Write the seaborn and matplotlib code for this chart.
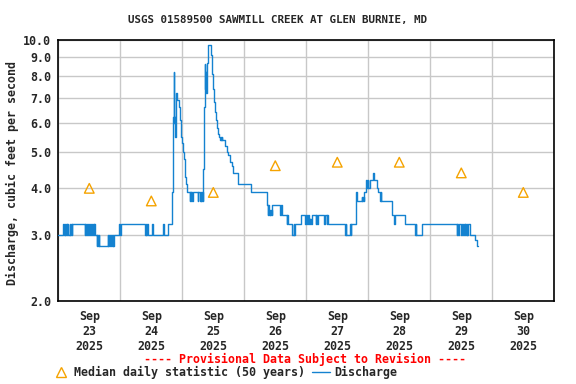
import pandas as pd
import matplotlib
matplotlib.use("Agg")
import matplotlib.pyplot as plt
import matplotlib.dates as mdates
from matplotlib.lines import Line2D
from matplotlib.ticker import NullFormatter, NullLocator
import seaborn as sns

# 15-minute discharge, kept as the points where the stepped value changes
# (hours after Sep 23 00:00, cubic feet per second)
step_hours = [
    0.0, 1.95, 2.2, 2.45, 2.7, 2.95, 3.3, 3.55, 3.8, 4.4, 4.65, 4.9, 5.15, 5.4,
    10.2, 10.45, 10.9, 11.15, 11.6, 11.85, 12.3, 12.55, 13.0, 13.25, 13.7, 13.95,
    14.3, 14.9, 15.15, 15.4, 15.65, 15.9,
    19.1, 19.35, 19.8, 20.05, 20.5, 20.75, 21.0, 21.25, 21.5,
    23.6, 23.85, 24.1,
    33.6, 33.85, 34.1, 34.35, 34.6, 36.2, 36.5, 40.6, 40.9, 42.6,
    44.1, 44.4, 44.75, 44.9, 45.05, 45.2, 45.35, 45.6, 45.8, 46.7, 47.1, 47.5,
    47.9, 48.3, 48.6, 48.9, 49.2, 49.5, 49.9,
    50.8, 51.05, 51.3, 51.55, 51.8, 52.05, 54.0, 54.25, 54.9, 55.15, 55.4, 55.65, 55.9,
    56.1, 56.4, 56.75, 56.95, 57.1, 57.25, 57.4, 57.55, 57.85, 59.0, 59.35, 59.55,
    59.9, 60.3, 60.8, 61.2, 61.6, 62.0, 62.4, 62.6, 62.8, 63.0, 63.2, 63.4, 64.5,
    65.2, 65.8, 66.5, 67.1, 67.8, 69.5, 69.7, 74.6,
    80.7, 81.05, 81.3, 81.6, 81.85, 82.1, 82.35, 82.6, 82.9, 85.8, 86.05, 86.5,
    88.4, 88.65, 89.05, 90.6, 91.2, 91.4, 91.65, 93.95, 95.5, 95.75, 96.4, 96.65,
    96.9, 97.1, 97.35, 97.6, 97.85, 98.3, 99.6, 99.85, 100.3, 100.55, 103.0,
    103.25, 103.9, 104.15, 104.5, 111.0, 111.25, 111.5, 112.9, 113.15, 113.4,
    115.4, 115.65, 117.4, 117.65, 117.9, 118.15, 118.5, 119.0, 119.2, 119.45,
    119.7, 119.95, 120.7, 121.9, 122.15, 123.3, 123.6, 124.5, 124.75, 125.0,
    129.3, 130.0, 130.25, 134.2, 138.1, 138.35, 138.6, 140.9,
    154.2, 154.45, 154.7, 154.95, 155.9, 156.15, 156.8, 157.05, 157.3, 157.55,
    157.8, 158.05, 158.3, 158.55, 159.4, 161.3, 161.9, 162.3,
]
step_cfs = [
    3.0, 3.2, 3.0, 3.2, 3.0, 3.2, 3.0, 3.2, 3.0, 3.2, 3.0, 3.2, 3.0, 3.2,
    3.0, 3.2, 3.0, 3.2, 3.0, 3.2, 3.0, 3.2, 3.0, 3.2, 3.0, 3.2,
    3.0, 2.8, 3.0, 2.8, 3.0, 2.8,
    3.0, 2.8, 3.0, 2.8, 3.0, 2.8, 3.0, 2.8, 3.0,
    3.2, 3.0, 3.2,
    3.0, 3.2, 3.0, 3.2, 3.0, 3.2, 3.0, 3.2, 3.0, 3.2,
    3.9, 6.2, 8.2, 6.0, 5.6, 6.2, 5.5, 7.2, 6.9, 6.6, 6.1, 5.5,
    5.3, 5.0, 4.8, 4.5, 4.3, 4.1, 3.9,
    3.7, 3.9, 3.7, 3.9, 3.7, 3.9, 3.7, 3.9, 3.7, 3.9, 3.7, 3.9, 3.7,
    4.5, 6.6, 8.6, 7.4, 8.2, 7.2, 8.0, 8.7, 9.7, 9.1, 8.8, 8.1,
    7.4, 6.8, 6.4, 6.1, 5.8, 5.6, 5.5, 5.4, 5.5, 5.4, 5.5, 5.4, 5.2,
    5.0, 4.9, 4.7, 4.6, 4.4, 4.3, 4.1, 3.9,
    3.6, 3.4, 3.6, 3.4, 3.5, 3.4, 3.5, 3.4, 3.6, 3.4, 3.6, 3.4,
    3.2, 3.4, 3.2, 3.0, 3.2, 3.0, 3.2, 3.4, 3.2, 3.4, 3.2, 3.4,
    3.2, 3.3, 3.2, 3.3, 3.2, 3.4, 3.2, 3.4, 3.2, 3.4, 3.2,
    3.4, 3.2, 3.4, 3.2, 3.0, 3.2, 3.0, 3.2, 3.0, 3.2,
    3.9, 3.7, 3.8, 3.7, 3.8, 3.7, 3.9, 4.0, 4.2, 4.0,
    4.2, 4.0, 4.2, 4.4, 4.2, 4.0, 3.9, 3.7, 3.9, 3.7,
    3.4, 3.2, 3.4, 3.2, 3.0, 3.2, 3.0, 3.2,
    3.0, 3.2, 3.0, 3.2, 3.0, 3.2, 3.0, 3.2, 3.0, 3.2,
    3.0, 3.2, 3.0, 3.2, 3.0, 2.9, 2.8, 2.8,
]

median_days = ["2025-09-23", "2025-09-24", "2025-09-25", "2025-09-26",
               "2025-09-27", "2025-09-28", "2025-09-29", "2025-09-30"]
median_cfs = [4.0, 3.7, 3.9, 4.6, 4.7, 4.7, 4.4, 3.9]

y_ticks = [2.0, 3.0, 4.0, 5.0, 6.0, 7.0, 8.0, 9.0, 10.0]

blue = "#1482d0"
orange = "#f5a300"

sns.set_style("white")
plt.rcParams['font.family'] = ['DejaVu Sans Mono']
plt.rcParams['font.weight'] = 'bold'

start = pd.Timestamp("2025-09-23")
flow = pd.DataFrame({"time": start + pd.to_timedelta(step_hours, unit="h"),
                     "cfs": step_cfs})
med = pd.DataFrame({"time": pd.to_datetime(median_days) + pd.Timedelta(hours=12),
                    "cfs": median_cfs})

fig = plt.figure(figsize=(5.76, 3.84), dpi=100)
ax = fig.add_axes([0.1012, 0.2174, 0.8611, 0.6784])

sns.lineplot(data=flow, x="time", y="cfs", ax=ax, drawstyle="steps-post",
             color=blue, lw=1, estimator=None, sort=False, zorder=3)
sns.scatterplot(data=med, x="time", y="cfs", ax=ax, marker="^", s=48,
                facecolor="none", edgecolor=orange, linewidth=1, zorder=4)

ax.set_yscale("log")
ax.set_ylim(2, 10)
ax.set_yticks(y_ticks, [f"{t:.1f}" for t in y_ticks])
ax.yaxis.set_minor_locator(NullLocator())

ax.set_xlim(start, start + pd.Timedelta(days=8))
ax.xaxis.set_major_locator(mdates.DayLocator())
ax.xaxis.set_major_formatter(NullFormatter())
ax.xaxis.set_minor_locator(mdates.HourLocator(byhour=[12]))
ax.xaxis.set_minor_formatter(mdates.DateFormatter("%b\n%d\n%Y"))

ax.grid(True, which="major", color="#c8c8c8", lw=1)
ax.tick_params(which="both", length=0, labelsize=8.4)
ax.tick_params(axis="x", which="minor", pad=7)
ax.tick_params(axis="y", pad=5)
for lab in ax.get_xticklabels(minor=True) + ax.get_yticklabels():
    lab.set_fontweight("bold")
for s in ax.spines.values():
    s.set_color("black")
    s.set_linewidth(1.2)
ax.set_xlabel("")
ax.set_ylabel("")

fig.text(0.481, 0.948, "USGS 01589500 SAWMILL CREEK AT GLEN BURNIE, MD",
         ha="center", va="center", fontsize=7.8, fontweight="bold")
fig.text(0.021, 0.55, "Discharge, cubic feet per second", rotation=90,
         ha="center", va="center", fontsize=8.4, fontweight="bold")
fig.text(0.530, 0.065, "---- Provisional Data Subject to Revision ----",
         ha="center", va="center", fontsize=8.4, color="red", fontweight="bold")

handles = [Line2D([], [], marker="^", ls="none", mfc="none", mec=orange, ms=7.5, mew=1),
           Line2D([], [], color=blue, lw=1)]
fig.legend(handles, ["Median daily statistic (50 years)", "Discharge"],
           loc="center left", bbox_to_anchor=(0.09, 0.029), ncol=2, frameon=False,
           prop={"size": 8.4, "weight": "bold"}, handlelength=1.5,
           handletextpad=0.4, columnspacing=0.6, borderaxespad=0, borderpad=0)

fig.savefig("out.png", dpi=100)
